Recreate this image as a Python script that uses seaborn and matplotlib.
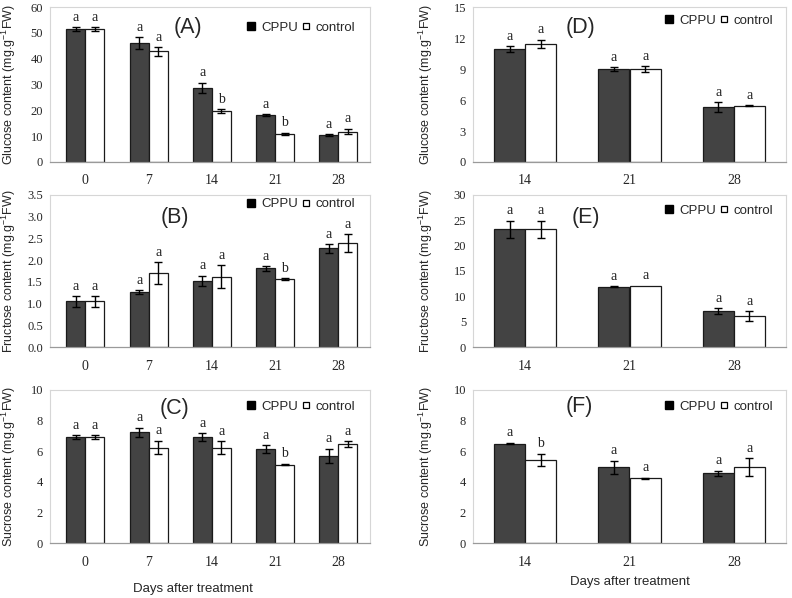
import numpy as np
import pandas as pd
import matplotlib
matplotlib.use("Agg")
import matplotlib.pyplot as plt
from matplotlib.lines import Line2D
import seaborn as sns

# ---------------- data ----------------
days_left = ["0", "7", "14", "21", "28"]
days_right = ["14", "21", "28"]

glu_cppu = [51.5, 46.1, 28.8, 18.1, 10.5]
glu_cppu_err = [0.6, 2.2, 1.9, 0.3, 0.3]
glu_ctrl = [51.5, 42.8, 19.7, 10.9, 11.8]
glu_ctrl_err = [0.6, 1.6, 0.7, 0.5, 1.0]
glu_let_cppu = ["a", "a", "a", "a", "a"]
glu_let_ctrl = ["a", "a", "b", "b", "a"]

fru_cppu = [1.05, 1.26, 1.52, 1.81, 2.27]
fru_cppu_err = [0.12, 0.05, 0.12, 0.05, 0.10]
fru_ctrl = [1.05, 1.70, 1.62, 1.56, 2.39]
fru_ctrl_err = [0.12, 0.25, 0.26, 0.02, 0.21]
fru_let_cppu = ["a", "a", "a", "a", "a"]
fru_let_ctrl = ["a", "a", "a", "b", "a"]

suc_cppu = [6.91, 7.24, 6.91, 6.13, 5.70]
suc_cppu_err = [0.12, 0.30, 0.25, 0.26, 0.45]
suc_ctrl = [6.91, 6.24, 6.24, 5.13, 6.46]
suc_ctrl_err = [0.12, 0.45, 0.40, 0.05, 0.20]
suc_let_cppu = ["a", "a", "a", "a", "a"]
suc_let_ctrl = ["a", "a", "a", "b", "a"]

glu2_cppu = [10.93, 8.99, 5.30]
glu2_cppu_err = [0.26, 0.20, 0.48]
glu2_ctrl = [11.45, 8.99, 5.43]
glu2_ctrl_err = [0.37, 0.30, 0.05]
glu2_let_cppu = ["a", "a", "a"]
glu2_let_ctrl = ["a", "a", "a"]

fru2_cppu = [23.2, 11.9, 7.05]
fru2_cppu_err = [1.75, 0.12, 0.6]
fru2_ctrl = [23.2, 12.1, 6.13]
fru2_ctrl_err = [1.75, 0.0, 0.9]
fru2_let_cppu = ["a", "a", "a"]
fru2_let_ctrl = ["a", "a", "a"]

suc2_cppu = [6.49, 4.95, 4.55]
suc2_cppu_err = [0.05, 0.43, 0.17]
suc2_ctrl = [5.42, 4.23, 4.95]
suc2_ctrl_err = [0.40, 0.05, 0.60]
suc2_let_cppu = ["a", "a", "a"]
suc2_let_ctrl = ["b", "a", "a"]

treatments = ["CPPU", "control"]

# ---------------- style ----------------
sns.set_style("white")
SANS = ["Liberation Sans", "DejaVu Sans"]
SERIF = ["Liberation Serif", "DejaVu Serif"]
plt.rcParams["font.family"] = SANS
plt.rcParams["mathtext.fontset"] = "custom"
plt.rcParams["mathtext.rm"] = "Liberation Sans"
plt.rcParams["mathtext.it"] = "Liberation Sans"
plt.rcParams["mathtext.default"] = "regular"

fig = plt.figure(figsize=(7.92, 5.98), dpi=100)
W, H = 792.0, 598.0


def axes_px(left, right, top, bottom):
    return fig.add_axes([left / W, 1 - bottom / H, (right - left) / W, (bottom - top) / H])


def panel(ax, cats, cppu, cppu_err, ctrl, ctrl_err, let_cppu, let_ctrl,
          ylim, yticks, yfmt, ylabel, tag, tag_xy, leg_xy, xlim, xlabel=None, xlabel_xy=None):
    df = pd.DataFrame({
        "day": cats * 2,
        "value": list(cppu) + list(ctrl),
        "trt": ["CPPU"] * len(cats) + ["control"] * len(cats),
    })
    sns.barplot(data=df, x="day", y="value", hue="trt", order=cats, hue_order=treatments,
                palette={"CPPU": "#434343", "control": "white"}, errorbar=None,
                width=0.6, edgecolor="#1a1a1a", linewidth=0.9, legend=False, ax=ax)
    errs = [cppu_err, ctrl_err]
    lets = [let_cppu, let_ctrl]
    for ci, cont in enumerate(ax.containers[:2]):
        for bi, bar in enumerate(cont):
            xc = bar.get_x() + bar.get_width() / 2
            h = bar.get_height()
            e = errs[ci][bi]
            if e > 0:
                ax.errorbar(xc, h, yerr=e, fmt="none", ecolor="black", elinewidth=1.0,
                            capsize=3.2, capthick=1.0, zorder=5)
            ax.annotate(lets[ci][bi], (xc, h + e), xytext=(0, 2.5), textcoords="offset points",
                        ha="center", va="bottom", fontsize=10, family=SERIF, color="#222222")
    ax.set_ylim(*ylim)
    ax.set_yticks(yticks)
    ax.set_yticklabels([yfmt.format(v) for v in yticks], family=SERIF, fontsize=9)
    ax.set_xlim(*xlim)
    ax.set_xticks(range(len(cats)))
    ax.set_xticklabels(cats, family=SERIF, fontsize=10)
    ax.set_xticks(np.arange(len(cats) + 1) - 0.5, minor=True)
    ax.tick_params(axis="x", which="major", length=0, pad=9)
    ax.tick_params(axis="x", which="minor", length=3, direction="in", color="#cccccc", width=0.8)
    ax.tick_params(axis="y", length=0, pad=5)
    for s in ["top", "right", "left"]:
        ax.spines[s].set_color("#d6d6d6")
        ax.spines[s].set_linewidth(0.8)
    ax.spines["bottom"].set_color("#9a9a9a")
    ax.spines["bottom"].set_linewidth(0.9)
    ax.set_ylabel(ylabel, fontsize=9, family=SANS)
    ax.set_xlabel(xlabel if xlabel else "", fontsize=9.5, family=SANS)
    if xlabel:
        ax.xaxis.set_label_coords(*xlabel_xy)
    ax.text(tag_xy[0], tag_xy[1], tag, transform=ax.transAxes, fontsize=15.5,
            ha="center", va="center", family=SANS)
    handles = [
        Line2D([], [], marker="s", linestyle="none", markersize=5.5,
               markerfacecolor="black", markeredgecolor="black"),
        Line2D([], [], marker="s", linestyle="none", markersize=5,
               markerfacecolor="white", markeredgecolor="black", markeredgewidth=0.9),
    ]
    ax.legend(handles, treatments, ncol=2, loc="center right", bbox_to_anchor=leg_xy,
              frameon=False, handlelength=0.55, handletextpad=0.5, columnspacing=0.3,
              borderaxespad=0, borderpad=0, prop={"family": SANS, "size": 9.5})


ylab_g = "Glucose content (mg.g$^{-1}$FW)"
ylab_f = "Fructose content (mg.g$^{-1}$FW)"
ylab_s = "Sucrose content (mg.g$^{-1}$FW)"

axA = axes_px(50, 370, 7, 162)
panel(axA, days_left, glu_cppu, glu_cppu_err, glu_ctrl, glu_ctrl_err, glu_let_cppu, glu_let_ctrl,
      (0, 60), list(range(0, 61, 10)), "{:d}", ylab_g, "(A)", (0.43, 0.865), (0.955, 0.865),
      (-0.56, 4.5))
axB = axes_px(50, 370, 195, 347)
panel(axB, days_left, fru_cppu, fru_cppu_err, fru_ctrl, fru_ctrl_err, fru_let_cppu, fru_let_ctrl,
      (0, 3.5), [0, 0.5, 1.0, 1.5, 2.0, 2.5, 3.0, 3.5], "{:.1f}", ylab_f, "(B)", (0.39, 0.85),
      (0.955, 0.94), (-0.56, 4.5))
axC = axes_px(50, 370, 390, 543)
panel(axC, days_left, suc_cppu, suc_cppu_err, suc_ctrl, suc_ctrl_err, suc_let_cppu, suc_let_ctrl,
      (0, 10), list(range(0, 11, 2)), "{:d}", ylab_s, "(C)", (0.39, 0.88), (0.955, 0.89),
      (-0.56, 4.5), xlabel="Days after treatment", xlabel_xy=(0.447, -0.26))

axD = axes_px(473, 786, 7, 162)
panel(axD, days_right, glu2_cppu, glu2_cppu_err, glu2_ctrl, glu2_ctrl_err, glu2_let_cppu,
      glu2_let_ctrl, (0, 15), list(range(0, 16, 3)), "{:d}", ylab_g, "(D)", (0.345, 0.865),
      (0.96, 0.91), (-0.5, 2.48))
axE = axes_px(473, 786, 195, 347)
panel(axE, days_right, fru2_cppu, fru2_cppu_err, fru2_ctrl, fru2_ctrl_err, fru2_let_cppu,
      fru2_let_ctrl, (0, 30), list(range(0, 31, 5)), "{:d}", ylab_f, "(E)", (0.36, 0.85),
      (0.96, 0.895), (-0.5, 2.48))
axF = axes_px(473, 786, 390, 543)
panel(axF, days_right, suc2_cppu, suc2_cppu_err, suc2_ctrl, suc2_ctrl_err, suc2_let_cppu,
      suc2_let_ctrl, (0, 10), list(range(0, 11, 2)), "{:d}", ylab_s, "(F)", (0.34, 0.89),
      (0.96, 0.89), (-0.5, 2.48), xlabel="Days after treatment", xlabel_xy=(0.5, -0.216))

for ax in (axA, axB, axC):
    ax.yaxis.set_label_coords(-0.10, 0.5)
for ax in (axD, axE, axF):
    ax.yaxis.set_label_coords(-0.121, 0.5)

fig.savefig("out.png", dpi=100)
